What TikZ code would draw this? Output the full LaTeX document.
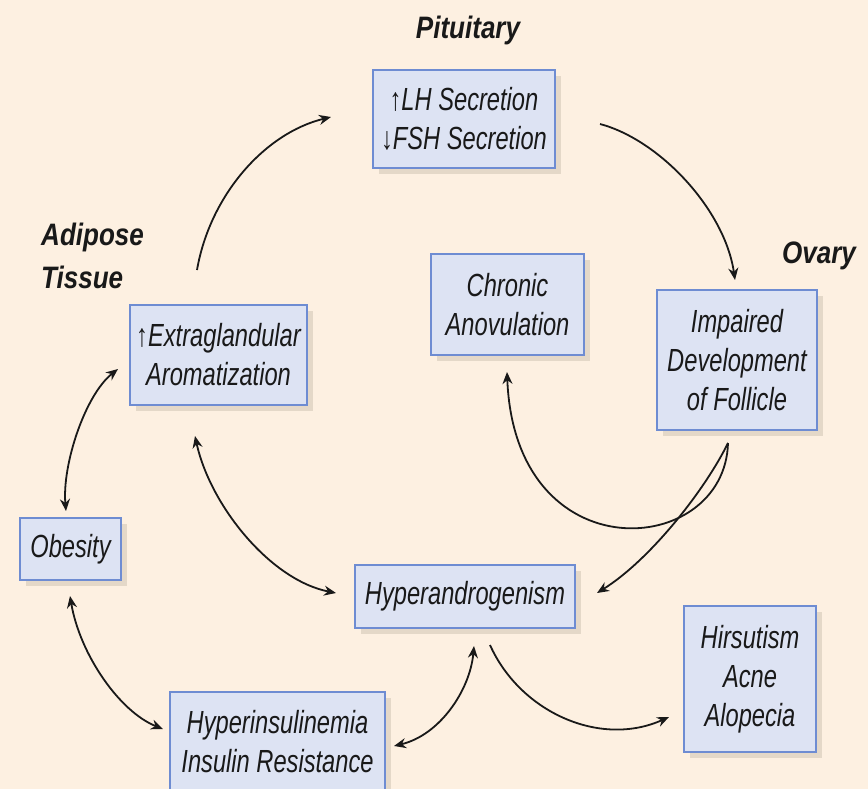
\documentclass[tikz,border=0pt]{standalone}
\usepackage{fontspec}
\usetikzlibrary{arrows.meta,shadows}
\newfontfamily\boxfont{Liberation Sans}[FakeStretch=0.74]
\newfontfamily\titlefont{Liberation Sans}[FakeStretch=0.84]
\definecolor{bg}{RGB}{253,240,225}
\definecolor{boxfill}{RGB}{221,227,243}
\definecolor{boxline}{RGB}{110,140,210}
\definecolor{shadowc}{RGB}{228,216,200}
\definecolor{ink}{RGB}{25,25,25}
\begin{document}
\begin{tikzpicture}[x=1pt,y=-1pt,
 box/.style={draw=boxline, line width=1.2pt, fill=boxfill, inner sep=0pt, align=center,
   font=\boxfont\itshape\fontsize{32}{39}\selectfont, text=ink,
   drop shadow={shadow xshift=6pt, shadow yshift=-6pt, fill=shadowc, opacity=1}},
 title/.style={font=\titlefont\bfseries\itshape\fontsize{31}{43}\selectfont, text=ink, inner sep=0pt},
 conn/.style={draw=ink, line width=1.8pt, -{Stealth[length=12pt,width=10pt]}},
 dconn/.style={draw=ink, line width=1.8pt, {Stealth[length=12pt,width=10pt]}-{Stealth[length=12pt,width=10pt]}}
]
\useasboundingbox (0,0) rectangle (868,789);
\fill[bg] (0,0) rectangle (868,789);

% titles
\node[title] (tpit) at (468,30) {Pituitary};
\node[title, align=left, anchor=west] (tadi) at (41,256) {Adipose\\Tissue};
\node[title] (tova) at (819,256) {Ovary};

% boxes
\node[box, minimum width=182pt, minimum height=98pt] (lh) at (464,119) {↑LH Secretion\\↓FSH Secretion};
\node[box, minimum width=153pt, minimum height=101pt] (chr) at (507.5,304.5) {Chronic\\Anovulation};
\node[box, minimum width=160pt, minimum height=140pt] (imp) at (737,360) {Impaired\\Development\\of Follicle};
\node[box, minimum width=177pt, minimum height=100pt] (ext) at (218.5,355) {↑Extraglandular\\Aromatization};
\node[box, minimum width=101pt, minimum height=62pt] (obe) at (70.5,549) {Obesity};
\node[box, minimum width=220pt, minimum height=63pt] (hyp) at (465,596.5) {Hyperandrogenism};
\node[box, minimum width=132pt, minimum height=146pt] (hir) at (750,679) {Hirsutism\\Acne\\Alopecia};
\node[box, minimum width=215pt, minimum height=100pt] (ins) at (277.5,742) {Hyperinsulinemia\\Insulin Resistance};

% connector end points
\coordinate (a1s) at (197,270);  \coordinate (a1e) at (331,117);
\coordinate (a2s) at (600,124);  \coordinate (a2e) at (735,280);
\coordinate (a3s) at (728,443);  \coordinate (a3e) at (507,372);
\coordinate (a4e) at (597,593);
\coordinate (a5s) at (195,436);  \coordinate (a5e) at (336,593);
\coordinate (a6s) at (118,369);  \coordinate (a6e) at (66,511);
\coordinate (a7s) at (70,596);   \coordinate (a7e) at (163,729);
\coordinate (a8s) at (394,746);  \coordinate (a8e) at (474,646);
\coordinate (a9s) at (490,645);  \coordinate (a9e) at (669,717);

% connectors
\draw[conn] (a1s) .. controls (210,195) and (265,133) .. (a1e);
\draw[conn] (a2s) .. controls (660,140) and (725,210) .. (a2e);
\draw[conn] (a3s) .. controls (725,558) and (515,575) .. (a3e);
\draw[conn] (a3s) .. controls (705,490) and (650,560) .. (a4e);
\draw[dconn] (a5s) .. controls (210,505) and (270,580) .. (a5e);
\draw[dconn] (a6s) .. controls (85,395) and (62,465) .. (a6e);
\draw[dconn] (a7s) .. controls (80,655) and (120,712) .. (a7e);
\draw[dconn] (a8s) .. controls (440,735) and (470,690) .. (a8e);
\draw[conn] (a9s) .. controls (520,712) and (600,748) .. (a9e);
\end{tikzpicture}
\end{document}
